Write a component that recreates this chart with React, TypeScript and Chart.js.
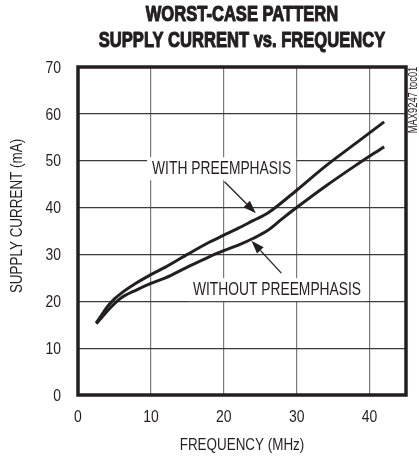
import React, { useEffect, useRef } from "react";
import { Chart, registerables } from "chart.js";

Chart.register(...registerables);

const titleLines = ["WORST-CASE PATTERN", "SUPPLY CURRENT vs. FREQUENCY"];
const xTitle = "FREQUENCY (MHz)";
const yTitle = "SUPPLY CURRENT (mA)";
const sideNote = "MAX9247 toc01";

const xTicks = [0, 10, 20, 30, 40];
const yTicks = [0, 10, 20, 30, 40, 50, 60, 70];

const withFreq = [2.5, 3, 4, 5, 6, 8, 10, 12, 15, 18, 20, 22, 24, 26, 27, 30, 34, 38, 42];
const withCurrent = [15.4, 16.5, 18.8, 20.5, 21.8, 23.9, 25.7, 27.3, 30.0, 32.6, 34.1, 35.6, 37.2, 38.8, 39.9, 43.7, 48.9, 53.6, 58.3];

const withoutFreq = [2.5, 3, 4, 5, 6, 8, 10, 12, 15, 18, 20, 22, 24, 26, 28, 30, 34, 38, 42];
const withoutCurrent = [15.2, 16.1, 17.9, 19.5, 20.8, 22.4, 23.8, 25.0, 27.3, 29.5, 30.8, 32.0, 33.4, 35.1, 37.6, 40.0, 44.6, 48.9, 53.0];

const labelWith = "WITH PREEMPHASIS";
const labelWithout = "WITHOUT PREEMPHASIS";
// annotation anchors in data units: [x, y]
const labelWithPos = [19.7, 48.4];
const arrowWith = [[20.1, 45.5], [24.4, 38.8]];
const labelWithoutPos = [27.3, 22.6];
const arrowWithout = [[27.9, 26.0], [23.8, 32.9]];

const SANS = '"Liberation Sans", Arial, sans-serif';
const INK = "#231f20";
const SX = 0.79; // horizontal condensing of the sans face

export default function App() {
  const ref = useRef<HTMLCanvasElement>(null);

  useEffect(() => {
    const canvas = ref.current;
    if (!canvas) return;

    const overlay = {
      id: "overlay",
      afterDatasetsDraw(chart: any) {
        const ctx = chart.ctx;
        const a = chart.chartArea;
        const xs = chart.scales.x;
        const ys = chart.scales.y;

        const text = (
          s: string,
          x: number,
          y: number,
          font: string,
          sx: number,
          align: CanvasTextAlign = "center",
          rot = 0,
          heavy = 0
        ) => {
          ctx.save();
          ctx.translate(x, y);
          if (rot) ctx.rotate(rot);
          ctx.scale(sx, 1);
          ctx.font = font;
          ctx.textAlign = align;
          ctx.textBaseline = "middle";
          ctx.fillStyle = INK;
          ctx.fillText(s, 0, 0);
          if (heavy) {
            ctx.strokeStyle = INK;
            ctx.lineWidth = heavy;
            ctx.lineJoin = "round";
            ctx.strokeText(s, 0, 0);
          }
          ctx.restore();
        };

        ctx.save();
        // frame
        ctx.strokeStyle = INK;
        ctx.lineWidth = 3.5;
        ctx.strokeRect(a.left, a.top, a.right - a.left, a.bottom - a.top);

        // title
        const cx = (a.left + a.right) / 2;
        text(titleLines[0], cx, 15.5, `bold 21.5px ${SANS}`, 0.77, "center", 0, 1.1);
        text(titleLines[1], cx, 41, `bold 21.5px ${SANS}`, 0.77, "center", 0, 1.1);

        // tick labels
        const tickFont = `17px ${SANS}`;
        yTicks.forEach((v) => text(String(v), 61, ys.getPixelForValue(v) + 1, tickFont, 0.82, "right"));
        xTicks.forEach((v) => text(String(v), xs.getPixelForValue(v), 417, tickFont, 0.82, "center"));

        // axis titles
        text(xTitle, cx, 445.5, `17px ${SANS}`, SX);
        text(yTitle, 17, 216, `17px ${SANS}`, SX, "center", -Math.PI / 2);

        // side note
        text(sideNote, 414, 100, `12px ${SANS}`, 0.78, "center", -Math.PI / 2);

        // annotations
        const annFont = `17.5px ${SANS}`;
        const drawLabel = (s: string, pos: number[]) => {
          const px = xs.getPixelForValue(pos[0]);
          const py = ys.getPixelForValue(pos[1]);
          ctx.font = annFont;
          const w = ctx.measureText(s).width * SX;
          ctx.fillStyle = "#ffffff";
          ctx.fillRect(px - w / 2 - 5, py - 11, w + 10, 23);
          text(s, px, py + 1, annFont, SX);
        };
        const drawArrow = (pts: number[][]) => {
          const x0 = xs.getPixelForValue(pts[0][0]);
          const y0 = ys.getPixelForValue(pts[0][1]);
          const x1 = xs.getPixelForValue(pts[1][0]);
          const y1 = ys.getPixelForValue(pts[1][1]);
          const ang = Math.atan2(y1 - y0, x1 - x0);
          const hl = 13;
          const hw = 4.5;
          const bx = x1 - hl * Math.cos(ang);
          const by = y1 - hl * Math.sin(ang);
          ctx.strokeStyle = INK;
          ctx.lineWidth = 1.3;
          ctx.beginPath();
          ctx.moveTo(x0, y0);
          ctx.lineTo(bx, by);
          ctx.stroke();
          ctx.fillStyle = INK;
          ctx.beginPath();
          ctx.moveTo(x1, y1);
          ctx.lineTo(bx + hw * Math.sin(ang), by - hw * Math.cos(ang));
          ctx.lineTo(bx - hw * Math.sin(ang), by + hw * Math.cos(ang));
          ctx.closePath();
          ctx.fill();
        };
        drawLabel(labelWith, labelWithPos);
        drawLabel(labelWithout, labelWithoutPos);
        drawArrow(arrowWith);
        drawArrow(arrowWithout);
        ctx.restore();
      },
    };

    const chart = new Chart(canvas, {
      type: "line",
      data: {
        datasets: [
          {
            label: labelWith,
            data: withFreq.map((x, i) => ({ x, y: withCurrent[i] })),
            borderColor: INK,
            borderWidth: 3,
            pointRadius: 0,
            cubicInterpolationMode: "monotone",
            fill: false,
          },
          {
            label: labelWithout,
            data: withoutFreq.map((x, i) => ({ x, y: withoutCurrent[i] })),
            borderColor: INK,
            borderWidth: 3,
            pointRadius: 0,
            cubicInterpolationMode: "monotone",
            fill: false,
          },
        ],
      },
      options: {
        responsive: false,
        animation: false,
        events: [],
        layout: { padding: { top: 67, right: 13, bottom: 0, left: 0 } },
        plugins: {
          legend: { display: false },
          title: { display: false },
          tooltip: { enabled: false },
        },
        scales: {
          x: {
            type: "linear",
            min: 0,
            max: 45,
            afterBuildTicks: (s: any) => {
              s.ticks = xTicks.map((v) => ({ value: v }));
            },
            afterFit: (s: any) => {
              s.height = 63;
            },
            border: { display: false },
            grid: {
              drawTicks: false,
              color: (c: any) => (c.tick && c.tick.value === 0 ? "rgba(0,0,0,0)" : "#7a7a7a"),
              lineWidth: 1.2,
            },
            ticks: { display: false },
          },
          y: {
            type: "linear",
            min: 0,
            max: 70,
            afterBuildTicks: (s: any) => {
              s.ticks = yTicks.map((v) => ({ value: v }));
            },
            afterFit: (s: any) => {
              s.width = 78;
            },
            border: { display: false },
            grid: {
              drawTicks: false,
              color: (c: any) =>
                c.tick && (c.tick.value === 0 || c.tick.value === 70) ? "rgba(0,0,0,0)" : "#3a3a3a",
              lineWidth: 1.2,
            },
            ticks: { display: false },
          },
        },
      },
      plugins: [overlay],
    } as any);

    return () => chart.destroy();
  }, []);

  return (
    <div style={{ position: "absolute", left: 0, top: 0, width: 419, height: 458, background: "#fff" }}>
      <canvas ref={ref} width={419} height={458} style={{ width: 419, height: 458, display: "block" }} />
    </div>
  );
}
